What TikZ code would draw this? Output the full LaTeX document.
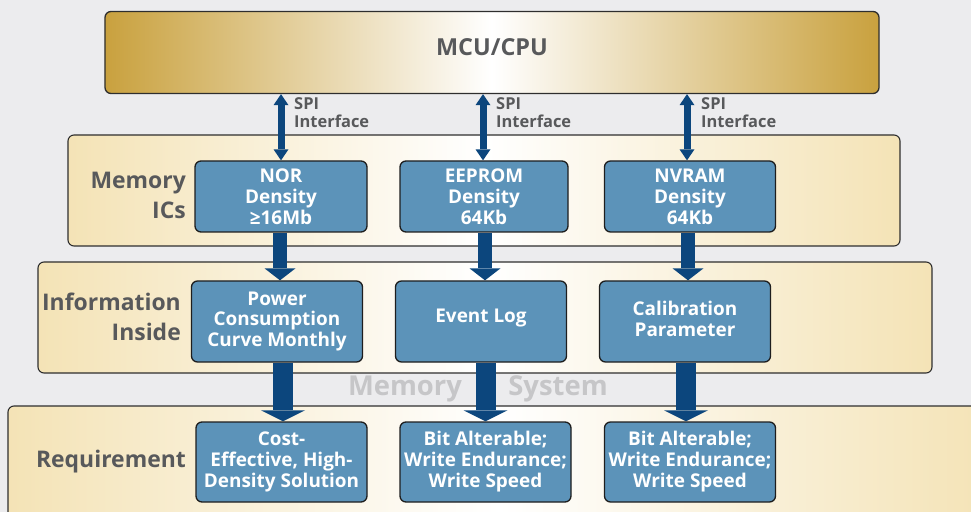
\documentclass[tikz,border=0pt]{standalone}
\usepackage{fontspec}
\setmainfont{Open Sans}
\usetikzlibrary{arrows.meta,calc}
\definecolor{bg}{HTML}{ECECEE}
\definecolor{gold}{HTML}{C9A13E}
\definecolor{cream}{HTML}{F4E3B6}
\definecolor{boxblue}{HTML}{5C93B9}
\definecolor{boxline}{HTML}{1E1E1E}
\definecolor{arrowblue}{HTML}{0C467D}
\definecolor{lblgray}{HTML}{58595B}
\definecolor{wmgray}{HTML}{C6C6C8}
\definecolor{panelline}{HTML}{2E2E2E}
\tikzset{
  panel/.style={draw=panelline, line width=1.1bp, rounded corners=6bp, left color=cream, right color=cream, middle color=white},
  bluebox/.style={draw=boxline, line width=1.3bp, fill=boxblue, rounded corners=6bp, text=white, align=center, inner sep=0pt, minimum width=171bp, font=\fontsize{19}{21}\selectfont\bfseries},
  lbl/.style={text=lblgray, align=right, inner sep=0pt, font=\fontsize{23}{30}\selectfont\bfseries},
  spilbl/.style={text=lblgray, align=left, inner sep=0pt, anchor=north west, font=\fontsize{16.5}{18.5}\selectfont\bfseries},
  wm/.style={text=wmgray, inner sep=0pt, font=\fontsize{27.5}{30}\selectfont\bfseries},
  spiarrow/.style={draw=arrowblue, line width=7bp, {Triangle[width=15bp,length=11bp,line width=0pt]}-{Triangle[width=15bp,length=11bp,line width=0pt]}},
  midarrow/.style={draw=arrowblue, line width=14bp, -{Triangle[width=31bp,length=12bp,line width=0pt]}},
  bigarrow/.style={draw=arrowblue, line width=20bp, -{Triangle[width=44bp,length=11bp,line width=0pt]}}
}
\begin{document}
\begin{tikzpicture}[x=1bp,y=-1bp]
\useasboundingbox (0,0) rectangle (971,512);
\fill[bg] (0,0) rectangle (971,512);

% panels
\draw[panel] (68,135) rectangle (900,246);
\draw[panel] (38,262) rectangle (932,373);
\draw[panel] (8,406) rectangle (990,540);

% watermark
\node[wm] (wm1) at (405,389) {Memory};
\node[wm] (wm2) at (558,389) {System};

% MCU
\node[draw=panelline, line width=1.3bp, rounded corners=6bp, left color=gold, right color=gold, middle color=white,
      minimum width=774bp, minimum height=82bp, inner sep=0pt, text=lblgray, text depth=10bp,
      font=\fontsize{23.5}{26}\selectfont\bfseries] (mcu) at (492,52.5) {MCU/CPU};

% memory ICs
\node[bluebox, minimum height=71bp, minimum width=172bp] (nor) at (281,196.5) {NOR\\Density\\≥16Mb};
\node[bluebox, minimum height=71bp, minimum width=168bp] (eeprom) at (484,196.5) {EEPROM\\Density\\64Kb};
\node[bluebox, minimum height=71bp] (nvram) at (690,196.5) {NVRAM\\Density\\64Kb};

% information
\node[bluebox, minimum height=81bp] (power) at (277,321.5) {Power\\Consumption\\Curve Monthly};
\node[bluebox, minimum height=81bp, text depth=11bp] (event) at (481,321.5) {Event Log};
\node[bluebox, minimum height=81bp, text depth=6bp] (calib) at (685,321.5) {Calibration\\Parameter};

% requirement
\node[bluebox, minimum height=80bp] (cost) at (281.5,462) {Cost-\\Effective, High-\\Density Solution};
\node[bluebox, minimum height=80bp] (bit1) at (485.5,462) {Bit Alterable;\\Write Endurance;\\Write Speed};
\node[bluebox, minimum height=80bp] (bit2) at (690,462) {Bit Alterable;\\Write Endurance;\\Write Speed};

% row labels
\node[lbl, anchor=east] (lmem) at (186,195) {Memory\\ICs};
\node[lbl, anchor=east] (linfo) at (181,317) {Information\\Inside};
\node[lbl, anchor=base east] (lreq) at (186,467) {Requirement};

% SPI arrows
\draw[spiarrow] (mcu.south -| nor.north) -- (nor.north);
\draw[spiarrow] ([xshift=-1bp]mcu.south -| eeprom.north) -- ([xshift=-1bp]eeprom.north);
\draw[spiarrow] ([xshift=-3bp]mcu.south -| nvram.north) -- ([xshift=-3bp]nvram.north);
\node[spilbl] (spi1) at (294,97) {SPI\\Interface};
\node[spilbl] (spi2) at (496,97) {SPI\\Interface};
\node[spilbl] (spi3) at (701,97) {SPI\\Interface};

% memory -> information
\draw[midarrow] ([xshift=-1bp]nor.south) -- ([xshift=-1bp]nor.south |- power.north);
\draw[midarrow] ([xshift=1bp]eeprom.south) -- ([xshift=1bp]eeprom.south |- event.north);
\draw[midarrow] ([xshift=-2bp]nvram.south) -- ([xshift=-2bp]nvram.south |- calib.north);

% information -> requirement
\draw[bigarrow] ([xshift=1.5bp]cost.north |- power.south) -- ([xshift=1.5bp]cost.north);
\draw[bigarrow] (bit1.north |- event.south) -- (bit1.north);
\draw[bigarrow] ([xshift=1bp]calib.south) -- ([xshift=1bp]calib.south |- bit2.north);
\end{tikzpicture}
\end{document}
